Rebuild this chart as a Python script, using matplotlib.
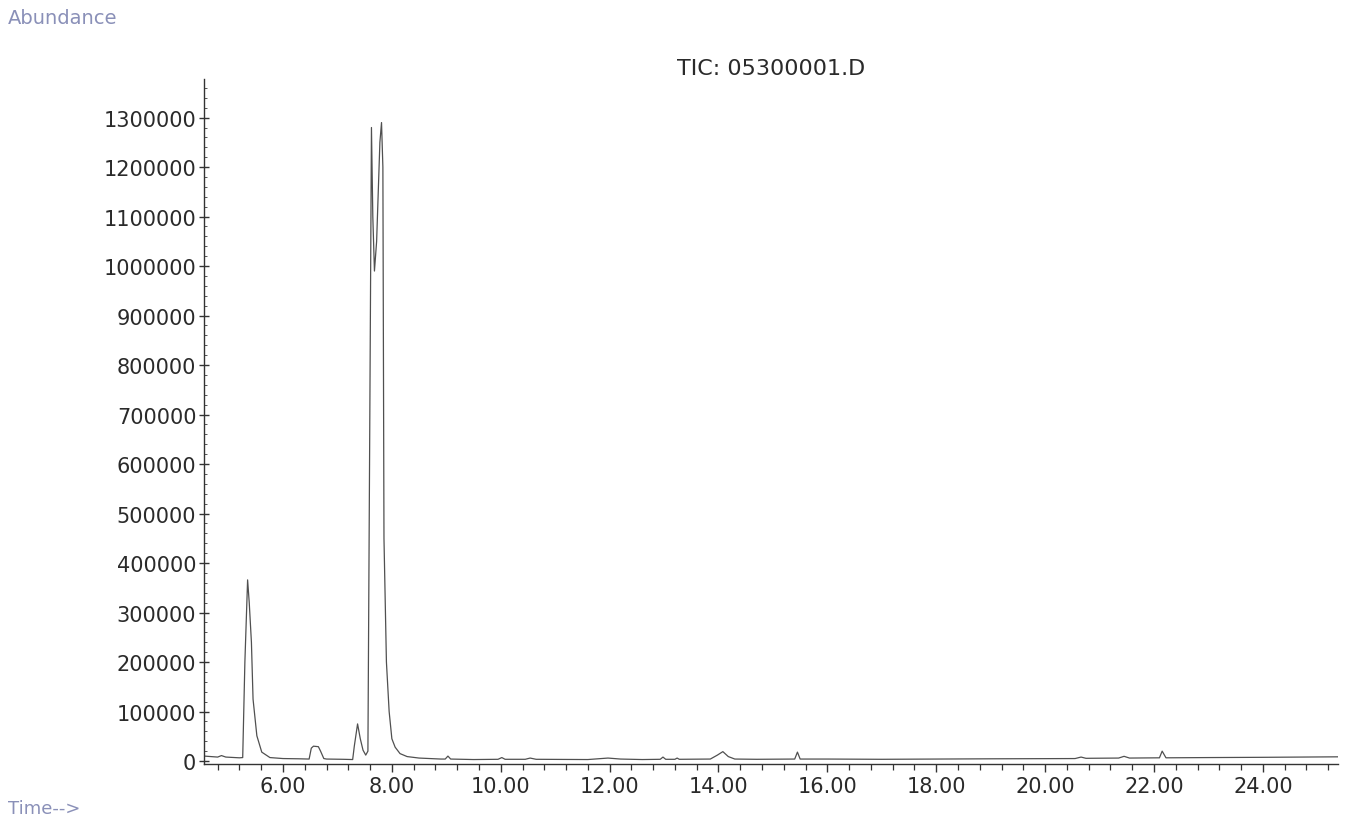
import matplotlib
matplotlib.use("Agg")
import matplotlib.pyplot as plt
from matplotlib.ticker import MultipleLocator, FixedLocator

# ---- data (time in min, abundance) ----
time_min = [4.55, 4.80, 4.87, 4.95, 5.20, 5.26, 5.30, 5.35, 5.38, 5.42, 5.45, 5.52,
            5.61, 5.76, 6.00, 6.30, 6.48, 6.52, 6.56, 6.65, 6.69, 6.75,
            6.80, 7.10, 7.28, 7.31, 7.37, 7.42, 7.47, 7.52, 7.56, 7.59, 7.625,
            7.65, 7.68, 7.72, 7.78, 7.81, 7.835, 7.855, 7.90, 7.95, 8.00, 8.06, 8.15,
            8.28, 8.50, 8.90, 8.98, 9.03, 9.08, 9.50, 9.95, 10.02, 10.08, 10.45, 10.54,
            10.65, 11.60, 11.97, 12.20, 12.60, 12.93, 12.98, 13.03, 13.20, 13.24, 13.28,
            13.85, 13.98, 14.08, 14.18, 14.30, 14.70, 15.40, 15.45, 15.50, 16.00, 17.00,
            18.00, 19.00, 20.55, 20.66, 20.75, 21.35, 21.45, 21.55, 22.10, 22.15, 22.22,
            23.00, 24.00, 25.38]
abundance = [10000, 8000, 11000, 8000, 6500, 7000, 200000, 366000, 320000, 240000, 125000, 51000,
             18000, 7000, 5000, 4500, 4000, 26000, 30000, 29000, 20000, 5000,
             4000, 3500, 3000, 30000, 75000, 45000, 22000, 12000, 20000, 600000, 1280000,
             1100000, 990000, 1050000, 1250000, 1290000, 1200000, 450000, 200000, 100000, 45000, 28000, 15000,
             9000, 6000, 4000, 4000, 10000, 4000, 3000, 3500, 7000, 3500, 3500, 6000,
             3500, 3000, 6000, 4000, 3000, 3500, 8000, 3500, 3500, 6000, 3500,
             4000, 12000, 19000, 9000, 4000, 3500, 4000, 18000, 4000, 4000, 3500,
             4000, 4500, 5000, 8000, 5500, 6000, 9500, 6000, 6500, 20000, 6500,
             7000, 7500, 8500]

x_major = [6, 8, 10, 12, 14, 16, 18, 20, 22, 24]
x_labels = ["6.00", "8.00", "10.00", "12.00", "14.00", "16.00", "18.00", "20.00", "22.00", "24.00"]
y_major = [0, 100000, 200000, 300000, 400000, 500000, 600000, 700000, 800000,
           900000, 1000000, 1100000, 1200000, 1300000]
y_labels = [str(v) for v in y_major]

title = "TIC: 05300001.D"

# ---- figure ----
W, H = 1350, 820
fig = plt.figure(figsize=(W / 100, H / 100), dpi=100)
ax = fig.add_axes([204 / W, 55 / H, (1338 - 204) / W, (765 - 80) / H])

ax.plot(time_min, abundance, color="#505050", lw=0.9)

ax.set_xlim(4.549, 25.38)
ax.set_ylim(-6000, 1378000)

for s in ("top", "right"):
    ax.spines[s].set_visible(False)
for s in ("left", "bottom"):
    ax.spines[s].set_color("#333333")
    ax.spines[s].set_linewidth(1.0)

ax.xaxis.set_major_locator(FixedLocator(x_major))
ax.set_xticklabels(x_labels)
ax.xaxis.set_minor_locator(MultipleLocator(0.4))
ax.yaxis.set_major_locator(FixedLocator(y_major))
ax.set_yticklabels(y_labels)
ax.yaxis.set_minor_locator(MultipleLocator(20000))

for lab in ax.get_xticklabels() + ax.get_yticklabels():
    lab.set_fontfamily("DejaVu Sans")
    lab.set_fontsize(15)
    lab.set_color("#2a2a2a")

ax.tick_params(axis="x", which="major", direction="out", length=6, width=1.0,
               color="#333333", pad=3)
ax.tick_params(axis="x", which="minor", direction="out", length=4, width=0.9,
               color="#333333")
ax.tick_params(axis="y", which="major", direction="inout", length=7, width=1.0,
               color="#333333", pad=2)
ax.tick_params(axis="y", which="minor", direction="in", length=2.5, width=0.7,
               color="#555555")

fig.text(771 / W, 1 - 69 / H, title, ha="center", va="center",
         fontsize=16, color="#2a2a2a", family="DejaVu Sans")
fig.text(8 / W, 1 - 18 / H, "Abundance", ha="left", va="center",
         fontsize=14, color="#8a90b8", family="DejaVu Sans")
fig.text(8 / W, 1 - 809 / H, "Time-->", ha="left", va="center",
         fontsize=13, color="#8a90b8", family="DejaVu Sans")

fig.savefig("out.png", dpi=100, facecolor="white")
